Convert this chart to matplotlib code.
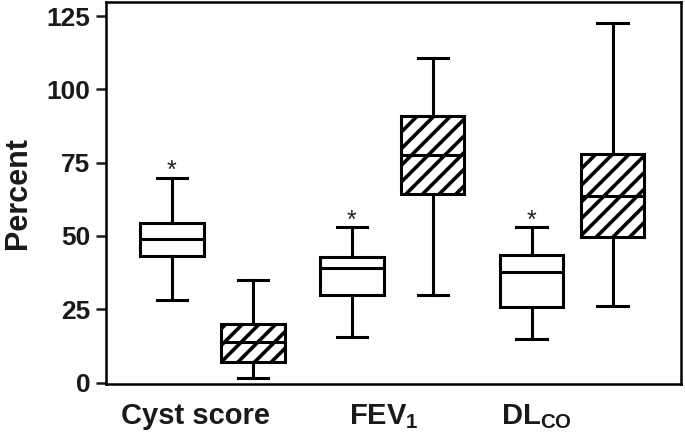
import matplotlib
matplotlib.use("Agg")
import matplotlib.pyplot as plt

# ---- data (percent) ----
groups = ["Cyst score", "FEV$_1$", "DL$_{\\mathregular{CO}}$"]
whisker_low  = [28.3, 1.5, 15.6, 30.0, 15.0, 26.0]
q1           = [43.0, 7.0, 30.0, 64.4, 25.7, 49.5]
medians      = [48.9, 13.7, 39.1, 77.7, 37.6, 63.5]
q3           = [54.4, 20.0, 42.7, 91.0, 43.4, 78.0]
whisker_high = [69.7, 35.1, 52.9, 110.6, 52.9, 122.5]
hatched      = [False, True, False, True, False, True]
significant  = [True, False, True, False, True, False]
yticks = [0, 25, 50, 75, 100, 125]

plt.rcParams['font.family'] = ['Liberation Sans', 'DejaVu Sans']
plt.rcParams['font.weight'] = 'bold'
plt.rcParams['mathtext.fontset'] = 'custom'
plt.rcParams['mathtext.rm'] = 'Liberation Sans:bold'
plt.rcParams['mathtext.it'] = 'Liberation Sans:bold'
plt.rcParams['mathtext.bf'] = 'Liberation Sans:bold'
plt.rcParams['mathtext.default'] = 'rm'
plt.rcParams['hatch.linewidth'] = 2.6
plt.rcParams['hatch.color'] = 'black'

fig = plt.figure(figsize=(6.85, 4.48), dpi=100)
ax = fig.add_axes([0.1547, 0.1429, 0.994 - 0.1547, 0.9955 - 0.1429])

positions = [0, 1, 2.222, 3.222, 4.444, 5.444]
stats = []
for i in range(len(medians)):
    stats.append(dict(whislo=whisker_low[i], q1=q1[i], med=medians[i],
                      q3=q3[i], whishi=whisker_high[i], fliers=[]))

lw = 2.2
bp = ax.bxp(stats, positions=positions, widths=0.78, patch_artist=True,
            showfliers=False,
            boxprops=dict(linewidth=lw, edgecolor='black', facecolor='white'),
            medianprops=dict(linewidth=lw, color='black'),
            whiskerprops=dict(linewidth=lw, color='black'),
            capprops=dict(linewidth=lw, color='black'),
            capwidths=0.38)
for box, h in zip(bp['boxes'], hatched):
    if h:
        box.set_hatch('//')
for pos, hi, s in zip(positions, whisker_high, significant):
    if s:
        ax.text(pos, hi + 0.0, '*', ha='center', va='baseline',
                fontsize=18, fontweight='normal', color='#222222')

ax.set_xlim(-0.815, 6.284)
ax.set_ylim(-0.5, 129.8)
ax.set_yticks(yticks)
ax.set_yticklabels([str(t) for t in yticks])
ax.tick_params(axis='y', length=7.2, width=1.8, pad=4, labelsize=19,
               colors='#1a1a1a', direction='out')
label_pos = [0.296, 2.617, 4.506]
ax.set_xticks(label_pos)
ax.set_xticklabels(groups)
ax.tick_params(axis='x', length=0, pad=13, labelsize=21, colors='#1a1a1a')
for sp in ax.spines.values():
    sp.set_linewidth(1.8)
ax.set_ylabel('Percent', fontsize=22, fontweight='bold', color='#1a1a1a', labelpad=10)

fig.savefig('out.png', dpi=100)
